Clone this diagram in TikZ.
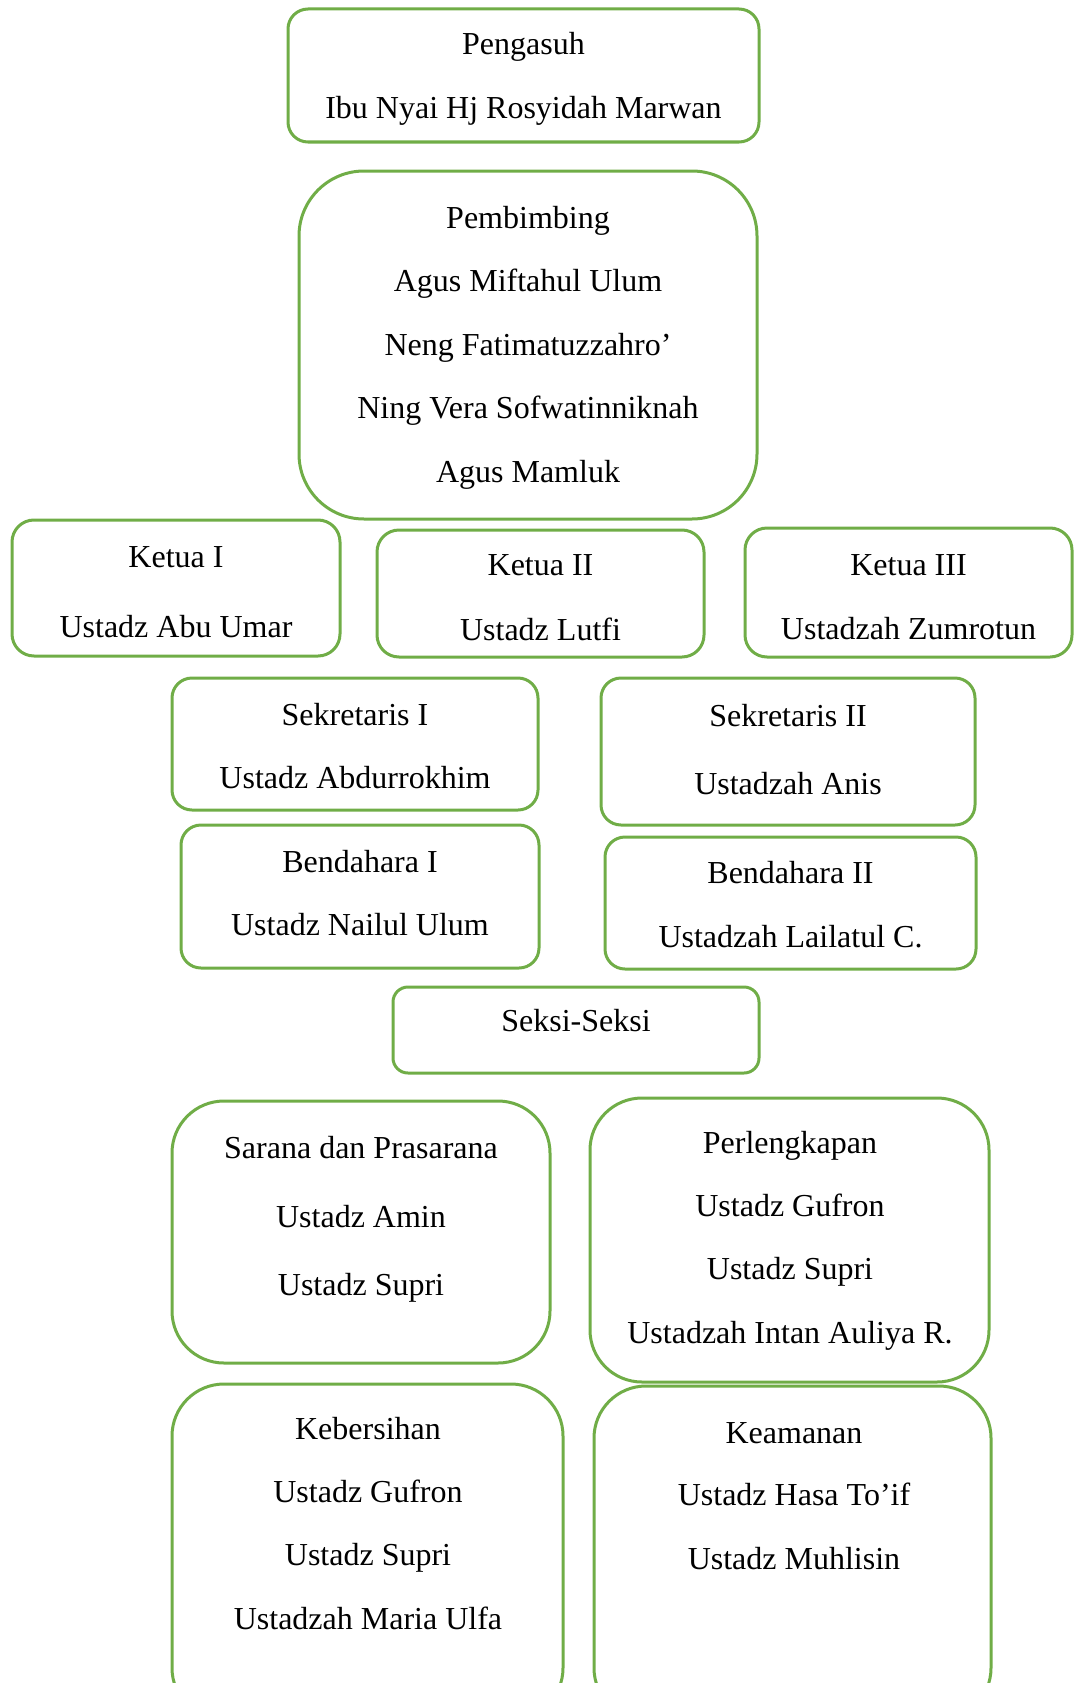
\documentclass[tikz,border=0pt]{standalone}
\usepackage{fontspec}
\setmainfont{Liberation Serif}
\definecolor{boxgreen}{HTML}{70AD47}
\begin{document}
\begin{tikzpicture}[x=1pt,y=-1pt,
  box/.style={draw=boxgreen, line width=3pt, inner sep=0pt, outer sep=0pt, fill=none},
  txt/.style={anchor=base, inner sep=0pt, font=\fontsize{32}{38}\selectfont}]
\useasboundingbox (0,0) rectangle (1074,1683);
\clip (0,0) rectangle (1074,1683);
% Pengasuh
\node[box, rounded corners=20pt, minimum width=471pt, minimum height=133pt] (pengasuh) at (523.5,75.5) {};
\node[txt] (pengasuh1) at (523.5,55) {Pengasuh};
\node[txt] (pengasuh2) at (523.5,118) {Ibu Nyai Hj Rosyidah Marwan};
% Pembimbing
\node[box, rounded corners=65pt, minimum width=458pt, minimum height=348pt] (pembimbing) at (528,345) {};
\node[txt] (pemb1) at (528,228) {Pembimbing};
\node[txt] (pemb2) at (528,291.5) {Agus Miftahul Ulum};
\node[txt] (pemb3) at (528,355) {Neng Fatimatuzzahro’};
\node[txt] (pemb4) at (528,418.5) {Ning Vera Sofwatinniknah};
\node[txt] (pemb5) at (528,482) {Agus Mamluk};
% Ketua
\node[box, rounded corners=22pt, minimum width=328pt, minimum height=136pt] (ketua1) at (176,588) {};
\node[txt] (ketua1a) at (176,567) {Ketua I};
\node[txt] (ketua1b) at (176,637) {Ustadz Abu Umar};
\node[box, rounded corners=22pt, minimum width=327pt, minimum height=127pt] (ketua2) at (540.5,593.5) {};
\node[txt] (ketua2a) at (540.5,575) {Ketua II};
\node[txt] (ketua2b) at (540.5,640) {Ustadz Lutfi};
\node[box, rounded corners=22pt, minimum width=327pt, minimum height=129pt] (ketua3) at (908.5,592.5) {};
\node[txt] (ketua3a) at (908.5,575) {Ketua III};
\node[txt] (ketua3b) at (908.5,639) {Ustadzah Zumrotun};
% Sekretaris
\node[box, rounded corners=20pt, minimum width=366pt, minimum height=132pt] (sek1) at (355,744) {};
\node[txt] (sek1a) at (355,725) {Sekretaris I};
\node[txt] (sek1b) at (355,788) {Ustadz Abdurrokhim};
\node[box, rounded corners=20pt, minimum width=374pt, minimum height=147pt] (sek2) at (788,751.5) {};
\node[txt] (sek2a) at (788,726) {Sekretaris II};
\node[txt] (sek2b) at (788,794) {Ustadzah Anis};
% Bendahara
\node[box, rounded corners=20pt, minimum width=358pt, minimum height=143pt] (bend1) at (360,896.5) {};
\node[txt] (bend1a) at (360,872) {Bendahara I};
\node[txt] (bend1b) at (360,935) {Ustadz Nailul Ulum};
\node[box, rounded corners=20pt, minimum width=371pt, minimum height=132pt] (bend2) at (790.5,903) {};
\node[txt] (bend2a) at (790.5,883) {Bendahara II};
\node[txt] (bend2b) at (790.5,947) {Ustadzah Lailatul C.};
% Seksi
\node[box, rounded corners=15pt, minimum width=366pt, minimum height=86pt] (seksi) at (576,1030) {};
\node[txt] (seksia) at (576,1031) {Seksi-Seksi};
% Sarana
\node[box, rounded corners=52pt, minimum width=378pt, minimum height=262pt] (sarana) at (361,1232) {};
\node[txt] (sarana1) at (361,1158) {Sarana dan Prasarana};
\node[txt] (sarana2) at (361,1227) {Ustadz Amin};
\node[txt] (sarana3) at (361,1295) {Ustadz Supri};
% Perlengkapan
\node[box, rounded corners=52pt, minimum width=399pt, minimum height=284pt] (perleng) at (789.5,1240) {};
\node[txt] (perleng1) at (790,1153) {Perlengkapan};
\node[txt] (perleng2) at (790,1216) {Ustadz Gufron};
\node[txt] (perleng3) at (790,1279) {Ustadz Supri};
\node[txt] (perleng4) at (790,1343) {Ustadzah Intan Auliya R.};
% Kebersihan
\node[box, rounded corners=52pt, minimum width=391pt, minimum height=336pt] (kebersihan) at (367.5,1552) {};
\node[txt] (keb1) at (368,1439) {Kebersihan};
\node[txt] (keb2) at (368,1502) {Ustadz Gufron};
\node[txt] (keb3) at (368,1565) {Ustadz Supri};
\node[txt] (keb4) at (368,1629) {Ustadzah Maria Ulfa};
% Keamanan
\node[box, rounded corners=52pt, minimum width=397pt, minimum height=334pt] (keamanan) at (792.5,1553) {};
\node[txt] (kea1) at (794,1443) {Keamanan};
\node[txt] (kea2) at (794,1505) {Ustadz Hasa To’if};
\node[txt] (kea3) at (794,1569) {Ustadz Muhlisin};
\end{tikzpicture}
\end{document}
